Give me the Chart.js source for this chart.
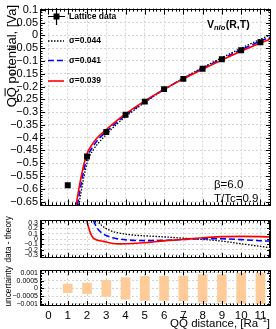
<!DOCTYPE html>
<html>
<head>
<meta charset="utf-8">
<script src="https://cdn.jsdelivr.net/npm/chart.js@4.4.1/dist/chart.umd.min.js"></script>
<style>
  html, body { margin: 0; padding: 0; background: #fff; }
  #wrap { position: relative; width: 276px; height: 329px; overflow: hidden; }
  canvas { position: absolute; left: 0; }
</style>
</head>
<body>
<div id="wrap">
  <canvas id="top" width="276" height="214" style="top:0px"></canvas>
  <canvas id="mid" width="276" height="50" style="top:214px"></canvas>
  <canvas id="bot" width="276" height="65" style="top:264px"></canvas>
</div>
<script>
// lattice points
const latticeR = [1, 2, 3, 4, 5, 6, 7, 8, 9, 10, 11];
const latticeV = [-0.586, -0.474, -0.378, -0.310, -0.259, -0.210, -0.170, -0.130, -0.093, -0.058, -0.027];
const uncertainty = [0.00028, 0.00034, 0.00052, 0.0007, 0.00078, 0.00078, 0.0008, 0.0009, 0.0009, 0.00097, 0.001];

const sigmaLabels = ['\u03c3=0.044', '\u03c3=0.041', '\u03c3=0.039'];

// theory curves, top panel
const r044 = [1.57, 1.7, 1.85, 2.0, 2.15, 2.35, 2.6, 3, 3.5, 4, 5, 6, 7, 8, 9, 10, 11, 11.55];
const v044 = [-0.665, -0.61, -0.55, -0.50, -0.47, -0.445, -0.42, -0.388, -0.35, -0.318, -0.262, -0.212, -0.167, -0.126, -0.087, -0.05, -0.015, 0.003];
const r041 = [1.5, 1.62, 1.77, 1.92, 2.07, 2.3, 2.55, 3, 3.5, 4, 5, 6, 7, 8, 9, 10, 11, 11.55];
const v041 = [-0.665, -0.612, -0.552, -0.50, -0.466, -0.436, -0.41, -0.376, -0.343, -0.312, -0.259, -0.211, -0.168, -0.129, -0.092, -0.056, -0.022, -0.005];
const r039 = [1.43, 1.55, 1.7, 1.85, 2.0, 2.25, 2.5, 3, 3.5, 4, 5, 6, 7, 8, 9, 10, 11, 11.55];
const v039 = [-0.665, -0.612, -0.552, -0.50, -0.462, -0.428, -0.403, -0.368, -0.336, -0.307, -0.256, -0.211, -0.17, -0.132, -0.096, -0.062, -0.03, -0.013];

// data - theory, middle panel
const dr044 = [2.5, 2.75, 3.2, 3.7, 4.4, 5, 6, 7, 8, 9, 10, 11, 11.55];
const dv044 = [0.355, 0.26, 0.16, 0.11, 0.075, 0.06, 0.04, 0.015, -0.008, -0.04, -0.09, -0.14, -0.165];
const dr041 = [2.33, 2.5, 2.75, 3.1, 3.5, 4, 5, 6, 7, 8, 9, 10, 11, 11.55];
const dv041 = [0.355, 0.22, 0.12, 0.05, 0.01, -0.015, -0.03, -0.025, -0.008, 0.008, 0.005, -0.012, -0.032, -0.042];
const dr039 = [1.98, 2.08, 2.18, 2.3, 2.45, 2.6, 2.85, 3.2, 3.7, 4.4, 5, 6, 7, 8, 9, 10, 11, 11.55];
const dv039 = [0.355, 0.22, 0.11, 0.03, -0.01, -0.028, -0.045, -0.075, -0.092, -0.085, -0.072, -0.035, -0.01, 0.025, 0.045, 0.05, 0.045, 0.038];

const FONT = '"Liberation Sans", Arial, Helvetica, sans-serif';
const X_MIN = -0.44, X_MAX = 11.55;
const BLACK = '#000', BLUE = '#0000ff', RED = '#ff0000', BAR = '#ffcc99';
const GRID = '#d4d4d4';

Chart.defaults.font.family = FONT;
Chart.defaults.color = BLACK;

const pts = (xs, ys) => xs.map((x, i) => ({ x: x, y: ys[i] }));
const fmt = v => String(+v.toFixed(6)).replace('-', '\u2212');

// ROOT-like frame with inward ticks on all sides
const rootFrame = {
  id: 'rootFrame',
  afterDraw(chart, args, o) {
    const { ctx, chartArea: a, scales: { x, y } } = chart;
    ctx.save();
    ctx.strokeStyle = BLACK;
    ctx.lineWidth = 1;
    ctx.strokeRect(Math.round(a.left) + 0.5, Math.round(a.top) + 0.5,
      Math.round(a.right - a.left) - 1, Math.round(a.bottom - a.top) - 1);
    ctx.beginPath();
    const mark = (sc, step, len, horiz) => {
      const k0 = Math.ceil(sc.min / step - 1e-9);
      for (let k = k0; k * step <= sc.max + 1e-12; k++) {
        const p = Math.round(sc.getPixelForValue(k * step)) + 0.5;
        if (horiz) {
          ctx.moveTo(p, a.bottom); ctx.lineTo(p, a.bottom - len);
          ctx.moveTo(p, a.top); ctx.lineTo(p, a.top + len);
        } else {
          ctx.moveTo(a.left, p); ctx.lineTo(a.left + len, p);
          ctx.moveTo(a.right, p); ctx.lineTo(a.right - len, p);
        }
      }
    };
    mark(x, 1, o.xMaj, true);
    mark(x, 0.2, o.xMaj / 2, true);
    mark(y, o.yStep, o.yMaj, false);
    mark(y, o.yStep / 5, o.yMaj / 2, false);
    ctx.stroke();
    ctx.restore();
  }
};

// vertical title, right-aligned to the panel top
function vTitle(ctx, text, x, yTop, size, bar) {
  ctx.save();
  ctx.fillStyle = BLACK;
  ctx.strokeStyle = BLACK;
  ctx.font = size + 'px ' + FONT;
  ctx.translate(x, yTop);
  ctx.rotate(-Math.PI / 2);
  ctx.textAlign = 'right';
  ctx.textBaseline = 'alphabetic';
  ctx.fillText(text, 0, 0);
  if (bar) {
    const w = ctx.measureText(text).width;
    const q = ctx.measureText('Q').width;
    ctx.lineWidth = 1;
    ctx.beginPath();
    ctx.moveTo(-w + q + 1, -size * 0.8);
    ctx.lineTo(-w + 2 * q - 1, -size * 0.8);
    ctx.stroke();
  }
  ctx.restore();
}

function xAxisBase(showLabels) {
  return {
    type: 'linear', min: X_MIN, max: X_MAX, offset: false,
    ticks: {
      stepSize: 1, includeBounds: false, display: showLabels,
      font: { size: 11.5 }, padding: 3, maxRotation: 0, autoSkip: false,
      callback: v => fmt(v)
    },
    grid: { color: GRID, drawTicks: false, lineWidth: 1, offset: false },
    border: { display: false, dash: [2, 2] },
    afterFit: s => { s.height = showLabels ? 23 : 0; }
  };
}

function yAxisBase(min, max, step, size) {
  return {
    type: 'linear', min: min, max: max,
    ticks: {
      stepSize: step, includeBounds: false, font: { size: size }, padding: 2,
      autoSkip: false, callback: v => fmt(v)
    },
    grid: { color: GRID, drawTicks: false, lineWidth: 1 },
    border: { display: false, dash: [2, 2] },
    afterFit: s => { s.width = 40; }
  };
}

const topText = {
  id: 'topText',
  afterDraw(chart) {
    const ctx = chart.ctx;
    ctx.save();
    ctx.fillStyle = BLACK;
    ctx.strokeStyle = BLACK;
    // legend: lattice marker with error cross
    ctx.lineWidth = 1.2;
    ctx.beginPath();
    ctx.moveTo(48, 16.5); ctx.lineTo(65, 16.5);
    ctx.moveTo(56.5, 8); ctx.lineTo(56.5, 25);
    ctx.stroke();
    ctx.fillRect(53.5, 13.5, 6, 6);
    ctx.font = 'bold 8.5px ' + FONT;
    ctx.textBaseline = 'middle';
    ctx.textAlign = 'left';
    ctx.fillText('Lattice data', 69, 16.5);
    const rows = [
      { y: 41, c: BLACK, dash: [1.5, 1.5], w: 1.3 },
      { y: 60.5, c: BLUE, dash: [6, 3], w: 1.6 },
      { y: 81, c: RED, dash: [], w: 1.6 }
    ];
    rows.forEach((r, i) => {
      ctx.strokeStyle = r.c;
      ctx.lineWidth = r.w;
      ctx.setLineDash(r.dash);
      ctx.beginPath();
      ctx.moveTo(48, r.y); ctx.lineTo(64, r.y);
      ctx.stroke();
      ctx.setLineDash([]);
      ctx.fillText(sigmaLabels[i], 69, r.y);
    });
    // V_nlo(R,T)
    ctx.textBaseline = 'alphabetic';
    let x = 207;
    ctx.font = 'bold 10.5px ' + FONT;
    ctx.fillText('V', x, 28);
    x += ctx.measureText('V').width;
    ctx.font = 'italic bold 7.5px ' + FONT;
    ctx.fillText('nlo', x, 30);
    x += ctx.measureText('nlo').width + 0.5;
    ctx.font = 'bold 10.5px ' + FONT;
    ctx.fillText('(R,T)', x, 28);
    // beta, T/Tc
    ctx.font = '11.5px ' + FONT;
    ctx.fillText('\u03b2=6.0', 214, 188);
    ctx.fillText('T/Tc=0.9', 214, 202);
    ctx.restore();
    vTitle(ctx, 'QQ potential, [Va]', 15.5, 5, 13, true);
  }
};

const midText = {
  id: 'midText',
  afterDraw(chart) {
    vTitle(chart.ctx, 'data - theory', 10.5, 2, 8.3, false);
  }
};

const botText = {
  id: 'botText',
  afterDraw(chart) {
    const ctx = chart.ctx;
    vTitle(ctx, 'uncertainty', 10.5, 2, 8.3, false);
    // x title with overline and superscript
    ctx.save();
    ctx.fillStyle = BLACK;
    ctx.strokeStyle = BLACK;
    ctx.textBaseline = 'alphabetic';
    ctx.textAlign = 'left';
    const base = 63;
    ctx.font = '11.5px ' + FONT;
    const wEnd = ctx.measureText(']').width;
    const main = 'QQ distance, [Ra';
    const wMain = ctx.measureText(main).width;
    const q = ctx.measureText('Q').width;
    ctx.font = '7.5px ' + FONT;
    const sup = '\u22121';
    const wSup = ctx.measureText(sup).width;
    let x = 270 - wEnd - wSup - wMain;
    ctx.font = '11.5px ' + FONT;
    ctx.fillText(main, x, base);
    ctx.lineWidth = 1;
    ctx.beginPath();
    ctx.moveTo(x + q + 1, base - 9.5);
    ctx.lineTo(x + 2 * q - 1, base - 9.5);
    ctx.stroke();
    ctx.font = '7.5px ' + FONT;
    ctx.fillText(sup, x + wMain, base - 5);
    ctx.font = '11.5px ' + FONT;
    ctx.fillText(']', x + wMain + wSup, base);
    ctx.restore();
  }
};

const curve = (xs, ys, color, dash, width) => ({
  data: pts(xs, ys), showLine: true, borderColor: color, borderWidth: width,
  borderDash: dash, pointRadius: 0, cubicInterpolationMode: 'monotone', fill: false
});

new Chart(document.getElementById('top'), {
  type: 'scatter',
  data: {
    datasets: [
      { data: pts(latticeR, latticeV), showLine: false, pointStyle: 'rect',
        pointRadius: 4.2, backgroundColor: BLACK, borderColor: BLACK, borderWidth: 0 },
      curve(r039, v039, RED, [], 1.6),
      curve(r041, v041, BLUE, [6, 3], 1.6),
      curve(r044, v044, BLACK, [1.5, 1.5], 1.3)
    ]
  },
  options: {
    responsive: false, animation: false, devicePixelRatio: 1, events: [],
    layout: { padding: { top: 5, right: 5, bottom: 1, left: 0 } },
    plugins: { legend: { display: false }, tooltip: { enabled: false },
      rootFrame: { xMaj: 6, yStep: 0.05, yMaj: 5 } },
    scales: {
      x: xAxisBase(false),
      y: yAxisBase(-0.665, 0.105, 0.05, 11)
    }
  },
  plugins: [rootFrame, topText]
});

new Chart(document.getElementById('mid'), {
  type: 'scatter',
  data: {
    datasets: [
      curve(dr039, dv039, RED, [], 1.6),
      curve(dr041, dv041, BLUE, [6, 3], 1.6),
      curve(dr044, dv044, BLACK, [1.5, 1.5], 1.3)
    ]
  },
  options: {
    responsive: false, animation: false, devicePixelRatio: 1, events: [],
    layout: { padding: { top: 2, right: 5, bottom: 2, left: 0 } },
    plugins: { legend: { display: false }, tooltip: { enabled: false },
      rootFrame: { xMaj: 5, yStep: 0.1, yMaj: 4 } },
    scales: {
      x: xAxisBase(false),
      y: yAxisBase(-0.355, 0.355, 0.1, 7)
    }
  },
  plugins: [rootFrame, midText]
});

new Chart(document.getElementById('bot'), {
  type: 'bar',
  data: {
    datasets: [{
      data: latticeR.map((r, i) => ({ x: r, y: [-uncertainty[i], uncertainty[i]] })),
      backgroundColor: BAR, borderWidth: 0, barThickness: 9
    }]
  },
  options: {
    responsive: false, animation: false, devicePixelRatio: 1, events: [],
    layout: { padding: { top: 2, right: 5, bottom: 0, left: 0 } },
    plugins: { legend: { display: false }, tooltip: { enabled: false },
      rootFrame: { xMaj: 5, yStep: 0.0005, yMaj: 4 } },
    scales: {
      x: xAxisBase(true),
      y: yAxisBase(-0.00115, 0.00118, 0.0005, 7)
    }
  },
  plugins: [rootFrame, botText]
});
</script>
</body>
</html>
